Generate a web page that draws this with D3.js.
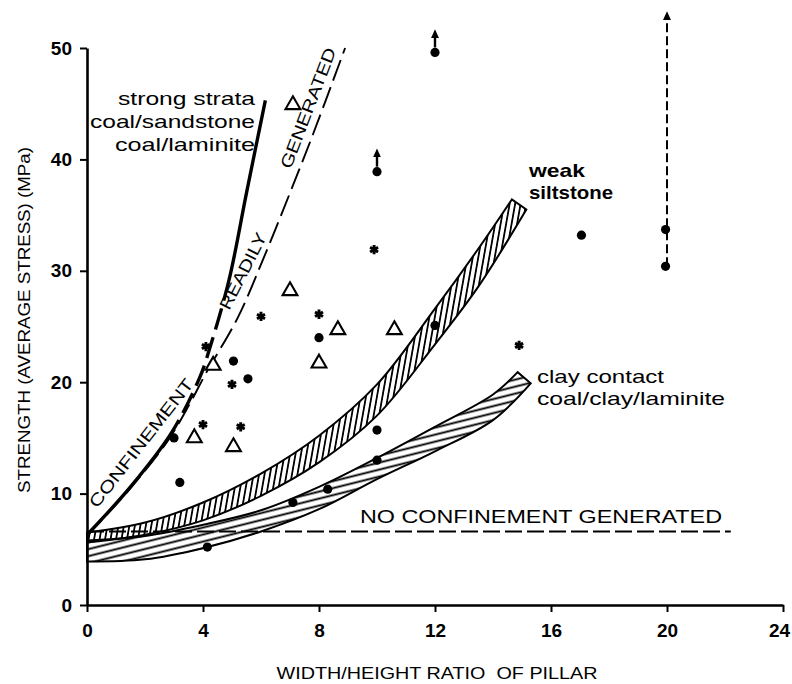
<!DOCTYPE html>
<html>
<head>
<meta charset="utf-8">
<script src="https://cdn.jsdelivr.net/npm/d3@7"></script>
<style>
  body { margin: 0; background: #fff; }
  text { font-family: "Liberation Sans", Arial, sans-serif; fill: #000; white-space: pre; }
</style>
</head>
<body>
<script>
// ---- data
var xTicks = [0, 4, 8, 12, 16, 20, 24];
var yTicks = [0, 10, 20, 30, 40, 50];

// filled circles
var circX = [3.0, 3.2, 5.05, 5.55, 8.0, 12.0, 10.0, 10.0, 10.0, 8.3, 7.1, 4.15, 12.0, 17.05, 19.95, 19.95];
var circY = [15.0, 11.0, 21.9, 20.3, 24.0, 49.6, 38.9, 15.7, 13.0, 10.4, 9.2, 5.2, 25.1, 33.2, 33.7, 30.4];
// asterisks
var starX = [4.1, 5.0, 4.0, 5.3, 6.0, 8.0, 9.9, 14.9];
var starY = [23.2, 19.8, 16.2, 16.0, 25.9, 26.1, 31.9, 23.3];
// open triangles
var triX = [3.7, 4.35, 5.05, 7.1, 7.0, 8.65, 8.0, 10.6];
var triY = [15.0, 21.5, 14.2, 44.9, 28.2, 24.7, 21.7, 24.7];
// points with an "at least" arrow
var arrowX = [10.0, 12.0];
var arrowY = [38.9, 49.6];
// dashed range at w/h = 20
var rangeX = 20;
var rangeLo = 30.4, rangeHi = 53.2;

// strong strata curve
var strongX = [0, 1.5, 2.9, 3.9, 4.25, 4.9, 5.5, 6.15];
var strongY = [6.3, 10.6, 15.4, 20.5, 23.2, 29.2, 37.0, 45.3];
// confinement readily generated (dashed)
var readyX = [0, 1.5, 2.8, 3.55, 4.1, 5.2, 6.1, 7.0, 7.8, 8.9];
var readyY = [6.2, 10.5, 14.8, 18.1, 20.8, 25.8, 31.2, 37.0, 42.3, 50.0];
// weak siltstone band
var siltUpX = [0, 2, 4, 6, 8, 10, 12, 13.5, 14.65];
var siltUpY = [6.5, 7.4, 9.2, 11.8, 15.2, 19.8, 26.6, 32.0, 36.4];
var siltLoX = [0, 2, 4, 6, 8, 10, 12, 13.5, 15.15];
var siltLoY = [5.6, 6.3, 7.6, 9.8, 12.8, 17.0, 23.4, 28.6, 35.5];
// clay contact band
var clayUpX = [0, 2, 4, 6, 8, 10, 12, 14, 14.85];
var clayUpY = [5.8, 6.2, 7.2, 8.5, 10.6, 13.2, 16.0, 18.9, 20.9];
var clayLoX = [0, 2, 4, 6, 8, 10, 12, 14, 15.3];
var clayLoY = [3.9, 4.1, 5.1, 6.6, 8.6, 11.3, 13.8, 16.6, 19.9];
// no confinement line
var noConfY = 6.6;
var noConfXmax = 22.2;

function pts(xs, ys) {
    return xs.map(function(v, i) { return [v, ys[i]]; });
}

var svg = d3.select("body").append("svg")
    .attr("width", 792)
    .attr("height", 684);

var x = d3.scaleLinear().domain([0, 24]).range([87, 783]);
var y = d3.scaleLinear().domain([0, 50]).range([605, 48]);

var defs = svg.append("defs");

// hatch patterns
var vh = defs.append("pattern")
    .attr("id", "vhatch")
    .attr("patternUnits", "userSpaceOnUse")
    .attr("width", 5.4).attr("height", 10)
    .attr("patternTransform", "rotate(10)");
vh.append("line").attr("x1", 2.7).attr("x2", 2.7).attr("y1", 0).attr("y2", 10)
    .attr("stroke", "#000").attr("stroke-width", 1.8);

var hh = defs.append("pattern")
    .attr("id", "hhatch")
    .attr("patternUnits", "userSpaceOnUse")
    .attr("width", 10).attr("height", 6.8)
    .attr("patternTransform", "rotate(-14)");
hh.append("line").attr("x1", 0).attr("x2", 10).attr("y1", 3.4).attr("y2", 3.4)
    .attr("stroke", "#000").attr("stroke-width", 1.9);

defs.append("marker")
    .attr("id", "head")
    .attr("viewBox", "0 -5 10 10")
    .attr("refX", 2).attr("refY", 0)
    .attr("markerUnits", "userSpaceOnUse")
    .attr("markerWidth", 9).attr("markerHeight", 9)
    .attr("orient", "auto")
    .append("path").attr("d", "M0,-4.5L10,0L0,4.5Z").attr("fill", "#000");

var line = d3.line()
    .x(function(d) { return x(d[0]); })
    .y(function(d) { return y(d[1]); })
    .curve(d3.curveCatmullRom.alpha(0.5));

function band(upX, upY, loX, loY) {
    var up = line(pts(upX, upY));
    var lo = line(pts(loX, loY).reverse());
    return up + "L" + lo.slice(1) + "Z";
}

// ---- axes
var yAxis = svg.append("g")
    .attr("transform", "translate(" + x(0) + ",0)")
    .call(d3.axisLeft(y).tickValues(yTicks).tickSize(7).tickSizeOuter(0).tickPadding(8));
var xAxis = svg.append("g")
    .attr("transform", "translate(0," + y(0) + ")")
    .call(d3.axisBottom(x).tickValues(xTicks).tickSize(7).tickSizeOuter(0).tickPadding(12));

[yAxis, xAxis].forEach(function(a) {
    a.select(".domain").attr("stroke", "#000").attr("stroke-width", 2.6);
    a.selectAll(".tick line").attr("stroke", "#000").attr("stroke-width", 2);
    a.selectAll(".tick text")
        .style("font-family", "'Liberation Sans', Arial, sans-serif")
        .style("font-size", "19px")
        .style("font-weight", "bold")
        .attr("fill", "#000");
});
// last label sits at the page edge, pull it in a little
xAxis.selectAll(".tick text").filter(function(d) { return d === 24; }).attr("dx", "-4");

// axis titles
svg.append("text")
    .attr("transform", "translate(30,320) rotate(-90)")
    .attr("text-anchor", "middle")
    .attr("textLength", 346).attr("lengthAdjust", "spacingAndGlyphs")
    .style("font-size", "17px")
    .text("STRENGTH (AVERAGE STRESS) (MPa)");

svg.append("text")
    .attr("x", 437).attr("y", 679)
    .attr("text-anchor", "middle")
    .attr("textLength", 321).attr("lengthAdjust", "spacingAndGlyphs")
    .style("font-size", "17px")
    .text("WIDTH/HEIGHT RATIO  OF PILLAR");

// ---- bands
svg.append("path")
    .attr("d", band(clayUpX, clayUpY, clayLoX, clayLoY))
    .attr("fill", "url(#hhatch)")
    .attr("stroke", "#000").attr("stroke-width", 2);

svg.append("path")
    .attr("d", band(siltUpX, siltUpY, siltLoX, siltLoY))
    .attr("fill", "url(#vhatch)")
    .attr("stroke", "#000").attr("stroke-width", 2);

// no confinement generated
svg.append("line")
    .attr("x1", x(0)).attr("x2", x(noConfXmax))
    .attr("y1", y(noConfY)).attr("y2", y(noConfY))
    .attr("stroke", "#000").attr("stroke-width", 2)
    .attr("stroke-dasharray", "17,5");

// confinement readily generated boundary
svg.append("path")
    .attr("d", line(pts(readyX, readyY)))
    .attr("fill", "none")
    .attr("stroke", "#000").attr("stroke-width", 1.9)
    .attr("stroke-dasharray", "22,7");

// strong strata curve: solid, heavy dashes in the middle, solid again
var strong = svg.append("path")
    .attr("d", line(pts(strongX, strongY)))
    .attr("fill", "none")
    .attr("stroke", "#000").attr("stroke-width", 3.4);

var node = strong.node();
var L = node.getTotalLength();
function lenAtY(py) {
    for (var l = 0; l <= L; l += 0.5) {
        if (node.getPointAtLength(l).y <= py) return l;
    }
    return L;
}
var l1 = lenAtY(y(16.6)), l2 = lenAtY(y(28.9));
var dash = [l1, 8];
var pos = l1 + 8;
while (pos + 22 < l2) { dash.push(22, 8); pos += 30; }
dash.push(L, 0);
strong.attr("stroke-dasharray", dash.join(","));

// range line at w/h = 20
svg.append("line")
    .attr("x1", x(rangeX)).attr("x2", x(rangeX))
    .attr("y1", y(rangeLo)).attr("y2", y(rangeHi) + 6)
    .attr("stroke", "#000").attr("stroke-width", 2)
    .attr("stroke-dasharray", "9,4")
    .attr("marker-end", "url(#head)");

// ---- points
svg.selectAll(".circ")
    .data(pts(circX, circY))
    .enter().append("circle")
    .attr("class", "circ")
    .attr("cx", function(d) { return x(d[0]); })
    .attr("cy", function(d) { return y(d[1]); })
    .attr("r", 4.6)
    .attr("fill", "#000");

svg.selectAll(".arr")
    .data(pts(arrowX, arrowY))
    .enter().append("line")
    .attr("class", "arr")
    .attr("x1", function(d) { return x(d[0]); })
    .attr("x2", function(d) { return x(d[0]); })
    .attr("y1", function(d) { return y(d[1]) - 5; })
    .attr("y2", function(d) { return y(d[1]) - 16; })
    .attr("stroke", "#000").attr("stroke-width", 2.4)
    .attr("marker-end", "url(#head)");

svg.selectAll(".star")
    .data(pts(starX, starY))
    .enter().append("path")
    .attr("class", "star")
    .attr("transform", function(d) { return "translate(" + x(d[0]) + "," + y(d[1]) + ")"; })
    .attr("d", d3.symbol(d3.symbolAsterisk, 60))
    .attr("fill", "none")
    .attr("stroke", "#000").attr("stroke-width", 2.9);

svg.selectAll(".tri")
    .data(pts(triX, triY))
    .enter().append("path")
    .attr("class", "tri")
    .attr("transform", function(d) { return "translate(" + x(d[0]) + "," + y(d[1]) + ")"; })
    .attr("d", d3.symbol(d3.symbolTriangle, 95))
    .attr("fill", "#fff")
    .attr("stroke", "#000").attr("stroke-width", 2.1);

// ---- labels
function label(txt, px, py, len, opts) {
    opts = opts || {};
    var t = svg.append("text")
        .attr("x", px).attr("y", py)
        .attr("text-anchor", opts.anchor || "start")
        .attr("textLength", len).attr("lengthAdjust", "spacingAndGlyphs")
        .style("font-size", (opts.size || 19) + "px")
        .style("font-weight", opts.weight || "normal")
        .text(txt);
    if (opts.rot) {
        t.attr("x", 0).attr("y", 0).attr("dy", "0.35em")
            .attr("transform", "translate(" + px + "," + py + ") rotate(" + opts.rot + ")");
    }
    return t;
}

label("strong strata", 255, 105, 137, {anchor: "end"});
label("coal/sandstone", 255, 128, 165, {anchor: "end"});
label("coal/laminite", 255, 151, 140, {anchor: "end"});

label("weak", 529, 177, 56, {weight: "bold"});
label("siltstone", 529, 199, 84, {weight: "bold"});

label("clay contact", 537, 383, 127);
label("coal/clay/laminite", 537, 405, 188);

label("NO CONFINEMENT GENERATED", 360, 523, 362, {size: 18});

label("CONFINEMENT", 141, 443, 158, {anchor: "middle", size: 17, rot: -52});
label("READILY", 243, 271, 84, {anchor: "middle", size: 17, rot: -63});
label("GENERATED", 308, 108, 128, {anchor: "middle", size: 17, rot: -69});
</script>
</body>
</html>
